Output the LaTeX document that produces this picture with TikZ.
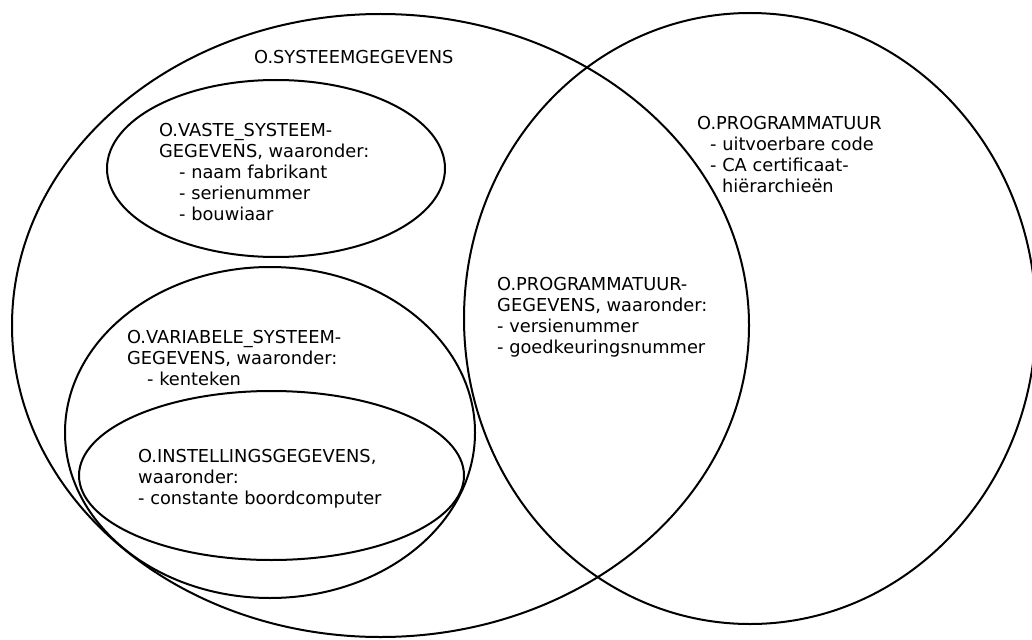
\documentclass[tikz,border=0pt]{standalone}
\usepackage{fontspec}
\setmainfont{DejaVu Sans}
\begin{document}
\begin{tikzpicture}[x=1pt, y=-1pt,
  ring/.style={draw=black, line width=2pt},
  label/.style={anchor=base west, inner sep=0pt, align=left,
    font=\fontsize{17.8}{21}\selectfont}]
\useasboundingbox (0,0) rectangle (1032,639);
\fill[white] (0,0) rectangle (1032,639);

% sets
\draw[ring] (380.5,325.5) ellipse [x radius=368.5pt, y radius=311.5pt];
\draw[ring] (750,318.5) ellipse [x radius=286pt, y radius=305.5pt];
\draw[ring] (276,168.5) ellipse [x radius=169pt, y radius=88.5pt];
\draw[ring] (270,432.5) ellipse [x radius=205pt, y radius=165.5pt];
\draw[ring] (271.5,475.5) ellipse [x radius=192.5pt, y radius=84.5pt];

% labels (anchored on the baseline of their last line)
\node[label] (sys) at (254,64) {O.SYSTEEMGEGEVENS};
\node[label] (vaste) at (159,220) {O.VASTE\_SYSTEEM-\\GEGEVENS, waaronder:\\
  \hspace*{20pt}- naam fabrikant\\\hspace*{20pt}- serienummer\\\hspace*{20pt}- bouwiaar};
\node[label] (var) at (127,385) {O.VARIABELE\_SYSTEEM-\\GEGEVENS, waaronder:\\
  \hspace*{20pt}- kenteken};
\node[label] (inst) at (138,504) {O.INSTELLINGSGEGEVENS,\\waaronder:\\- constante boordcomputer};
\node[label] (pgeg) at (497,353) {O.PROGRAMMATUUR-\\GEGEVENS, waaronder:\\- versienummer\\- goedkeuringsnummer};
\node[label] (prog) at (697,193) {O.PROGRAMMATUUR\\\hspace*{13pt}- uitvoerbare code\\
  \hspace*{13pt}- CA certificaat-\\\hspace*{25pt}hiërarchieën};
\end{tikzpicture}
\end{document}
